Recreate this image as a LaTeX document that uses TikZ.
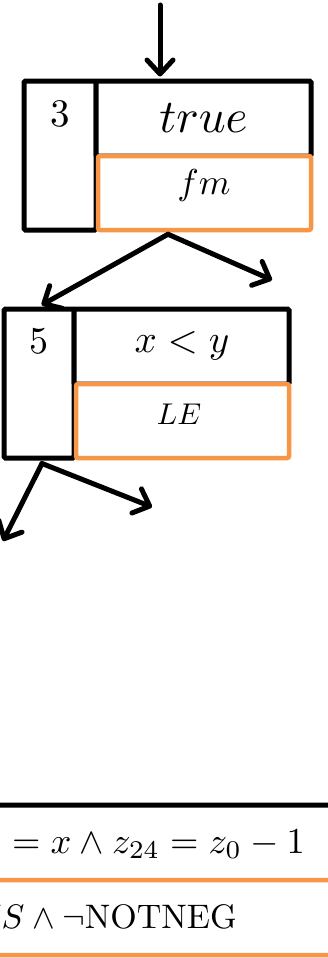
\documentclass[tikz,border=0pt]{standalone}
\usepackage{amsmath}
\usetikzlibrary{arrows.meta}
\definecolor{orng}{HTML}{F79646}
\tikzset{
  blk/.style={draw=black, line width=5pt, rounded corners=1.5pt, inner sep=0pt, fill=white},
  orb/.style={draw=orng, line width=4.5pt, rounded corners=2pt, inner sep=0pt, fill=white},
  flow/.style={line width=5pt, line cap=round, -{Straight Barb[length=14pt,width=26pt,round]}},
  lbl/.style={inner sep=0pt, anchor=base},
}
\begin{document}
\begin{tikzpicture}[x=1pt,y=-1pt]
\useasboundingbox (0,0) rectangle (328,958);
\clip (0,0) rectangle (328,958);
\fill[white] (0,0) rectangle (328,958);

% block 3
\node[blk, minimum width=72pt, minimum height=149pt] (n3id) at (60,155.5) {};
\node[blk, minimum width=215pt, minimum height=75pt] (n3c) at (203.5,118.5) {};
\node[orb, minimum width=213pt, minimum height=74pt] (n3o) at (204.5,193) {};
\node[lbl] (t3) at (60,126) {\scalebox{3.9}{3}};
\node[lbl] (t3c) at (203.5,132) {\scalebox{4.7}{$true$}};
\node[lbl] (t3o) at (204,194) {\scalebox{3.6}{$fm$}};

% block 5
\node[blk, minimum width=70pt, minimum height=149pt] (n5id) at (39,383.5) {};
\node[blk, minimum width=215pt, minimum height=75pt] (n5c) at (181.5,346.5) {};
\node[orb, minimum width=213pt, minimum height=74pt] (n5o) at (182.5,421) {};
\node[lbl] (t5) at (39,353) {\scalebox{3.8}{5}};
\node[lbl] (t5c) at (182,352) {\scalebox{3.9}{$x<y$}};
\node[lbl] (t5o) at (179,424) {\scalebox{3.0}{$LE$}};

% bottom block (cropped)
\node[blk, minimum width=400pt, minimum height=160pt] (nb) at (164,885) {};
\node[orb, minimum width=400pt, minimum height=75pt] (nbo) at (164,917.5) {};
\node[lbl, anchor=base east] (tb) at (305,853) {\scalebox{3.65}{$= x \wedge z_{24} = z_0 - 1$}};
\node[lbl, anchor=base east] (tbo) at (237,928) {\scalebox{3.4}{$US \wedge \neg$NOTNEG}};

% connectors
\coordinate (in3) at (160,5);
\coordinate (r3) at (272,280);
\coordinate (r5) at (152,507);
\coordinate (l5) at (3,541);
\draw[flow, shorten >=2pt] (in3) -- (in3 |- n3c.north);
\draw[flow, shorten >=3pt] ([xshift=-36.5pt,yshift=-2pt]n3o.south) -- (n5id.north);
\draw[flow] ([xshift=-36.5pt,yshift=-2pt]n3o.south) -- (r3);
\draw[flow] ([xshift=3pt,yshift=-3pt]n5id.south) -- (l5);
\draw[flow] ([xshift=3pt,yshift=-3pt]n5id.south) -- (r5);
\end{tikzpicture}
\end{document}
